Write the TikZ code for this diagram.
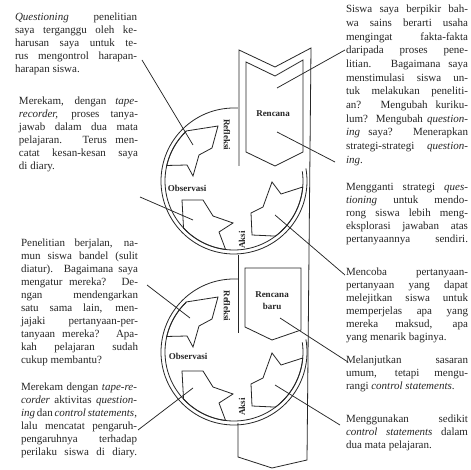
\documentclass[tikz,border=0pt]{standalone}
\usepackage{fontspec}
\setmainfont{Liberation Serif}
\newlength\bw
\newcommand\jline[1]{\makebox[\bw][s]{#1}}
\newcommand\lline[1]{\makebox[\bw][l]{#1}}
\tikzset{
  txt/.style={anchor=north west, inner sep=0pt, outer sep=0pt, align=left, font=\fontsize{11}{13}\selectfont, text=black!85},
  lbl/.style={font=\fontsize{9}{11}\selectfont\bfseries, inner sep=0pt, text=black!85},
  shp/.style={draw=black!85, line width=0.8pt, line join=miter},
  lead/.style={draw=black!85, line width=0.75pt},
}
\newcommand\cycleshapes{%
  \draw[shp] (273:73) arc[start angle=273, end angle=-10, radius=73];
  \draw[shp] (226:69) arc[start angle=226, end angle=-8, radius=69];
  \draw[shp] (-48,-50) -- (-16,-55) -- (-22,-33) -- (-35,-26) -- (-41,-5) -- (-47,-16) -- (193:69) arc[start angle=193, end angle=226, radius=69] -- cycle;
  \draw[shp] (-52,19) -- (-31,19) -- (-21,35) -- (-1,42) -- (-15,51) -- (97:69) arc[start angle=97, end angle=137, radius=69] -- cycle;
  \draw[shp] (38,1) -- (47,13) -- (5:69) arc[start angle=5, end angle=53, radius=69] -- (18,54) -- (17,32) -- (29,26) -- cycle;
}
\begin{document}
\begin{tikzpicture}[x=1pt, y=-1pt]
\useasboundingbox (0,0) rectangle (471,470);
\fill[white] (0,0) rectangle (471,470);

% ---- band and plan boxes
\draw[shp] (239,166) -- (239,50) -- (275,67) -- (311,48) -- (307,460) -- (272,468) -- (238,457) -- (238,423);
\draw[shp] (246,62) -- (275,76) -- (303,60) -- (303,152) -- (275,166) -- (246,152) -- cycle;
\draw[shp] (238,255) -- (238,333);
\draw[shp] (245,268) -- (301,268) -- (301,330) -- (272,340) -- (245,327) -- cycle;

% ---- cycles
\begin{scope}[shift={(234,181)}]
\cycleshapes
\end{scope}
\begin{scope}[shift={(234,352)}]
\cycleshapes
\end{scope}

% ---- labels
\node[lbl] (ren1) at (273,114) {Rencana};
\node[lbl, align=center, font=\fontsize{9}{12}\selectfont\bfseries] (ren2) at (272,301) {Rencana\\baru};
\node[lbl] (obs1) at (187,188) {Observasi};
\node[lbl] (obs2) at (188,356) {Observasi};
\node[lbl, rotate=-90] (ref1) at (227,135) {Refleksi};
\node[lbl, rotate=-90] (ref2) at (227,306) {Refleksi};
\node[lbl, rotate=90] (aks1) at (242,240) {Aksi};
\node[lbl, rotate=90] (aks2) at (242,407) {Aksi};

% ---- text blocks
\setlength\bw{122pt}
\node[txt] (l1) at (15,13) {\jline{\emph{Questioning} penelitian}\\
\jline{saya terganggu oleh ke-}\\
\jline{harusan saya untuk te-}\\
\jline{rus mengontrol harapan-}\\
\lline{harapan siswa.}};

\setlength\bw{119pt}
\node[txt] (l2) at (19,97) {\jline{Merekam, dengan \emph{tape-}}\\
\jline{\emph{recorder,} proses tanya-}\\
\jline{jawab dalam dua mata}\\
\jline{pelajaran. Terus men-}\\
\jline{catat kesan-kesan saya}\\
\lline{di diary.}};

\setlength\bw{117pt}
\node[txt] (l3) at (21,239) {\jline{Penelitian berjalan, na-}\\
\jline{mun siswa bandel (sulit}\\
\jline{diatur). Bagaimana saya}\\
\jline{mengatur mereka? De-}\\
\jline{ngan mendengarkan}\\
\jline{satu sama lain, men-}\\
\jline{jajaki pertanyaan-per-}\\
\jline{tanyaan mereka? Apa-}\\
\jline{kah pelajaran sudah}\\
\lline{cukup membantu?}};

\setlength\bw{116pt}
\node[txt] (l4) at (21,383) {\jline{Merekam dengan \emph{tape-re-}}\\
\jline{\emph{corder} aktivitas \emph{question-}}\\
\jline{\emph{ing} dan \emph{control statements},}\\
\jline{lalu mencatat pengaruh-}\\
\jline{pengaruhnya terhadap}\\
\jline{perilaku siswa di diary.}};

\setlength\bw{122pt}
\node[txt, font=\fontsize{11}{13.7}\selectfont] (r1) at (346,5) {\jline{Siswa saya berpikir bah-}\\
\jline{wa sains berarti usaha}\\
\jline{mengingat fakta-fakta}\\
\jline{daripada proses pene-}\\
\jline{litian. Bagaimana saya}\\
\jline{menstimulasi siswa un-}\\
\jline{tuk melakukan peneliti-}\\
\jline{an? Mengubah kuriku-}\\
\jline{lum? Mengubah \emph{question-}}\\
\jline{\emph{ing} saya? Menerapkan}\\
\jline{strategi-strategi \emph{question-}}\\
\lline{\emph{ing}.}};

\node[txt] (r2) at (346,183) {\jline{Mengganti strategi \emph{ques-}}\\
\jline{\emph{tioning} untuk mendo-}\\
\jline{rong siswa lebih meng-}\\
\jline{eksplorasi jawaban atas}\\
\jline{pertanyaannya sendiri.}};

\node[txt] (r3) at (346,268) {\jline{Mencoba pertanyaan-}\\
\jline{pertanyaan yang dapat}\\
\jline{melejitkan siswa untuk}\\
\jline{memperjelas apa yang}\\
\jline{mereka maksud, apa}\\
\lline{yang menarik baginya.}};

\node[txt] (r4) at (346,356) {\jline{Melanjutkan sasaran}\\
\jline{umum, tetapi mengu-}\\
\lline{rangi \emph{control statements}.}};

\node[txt] (r5) at (346,415) {\jline{Menggunakan sedikit}\\
\jline{\emph{control statements} dalam}\\
\lline{dua mata pelajaran.}};

% ---- leader lines
\coordinate (a1) at (142,60);  \coordinate (b1) at (193,145);
\coordinate (a2) at (140,197); \coordinate (b2) at (193,220);
\coordinate (a3) at (147,285); \coordinate (b3) at (190,318);
\coordinate (a4) at (138,430); \coordinate (b4) at (193,388);
\coordinate (a5) at (345,50);  \coordinate (b5) at (277,88);
\coordinate (a6) at (335,162); \coordinate (b6) at (277,132);
\coordinate (a7) at (345,275); \coordinate (b7) at (275,215);
\coordinate (a8) at (348,362); \coordinate (b8) at (280,318);
\coordinate (a9) at (340,425); \coordinate (b9) at (275,385);
\foreach \i in {1,...,9} {\draw[lead] (a\i) -- (b\i);}
\end{tikzpicture}
\end{document}
